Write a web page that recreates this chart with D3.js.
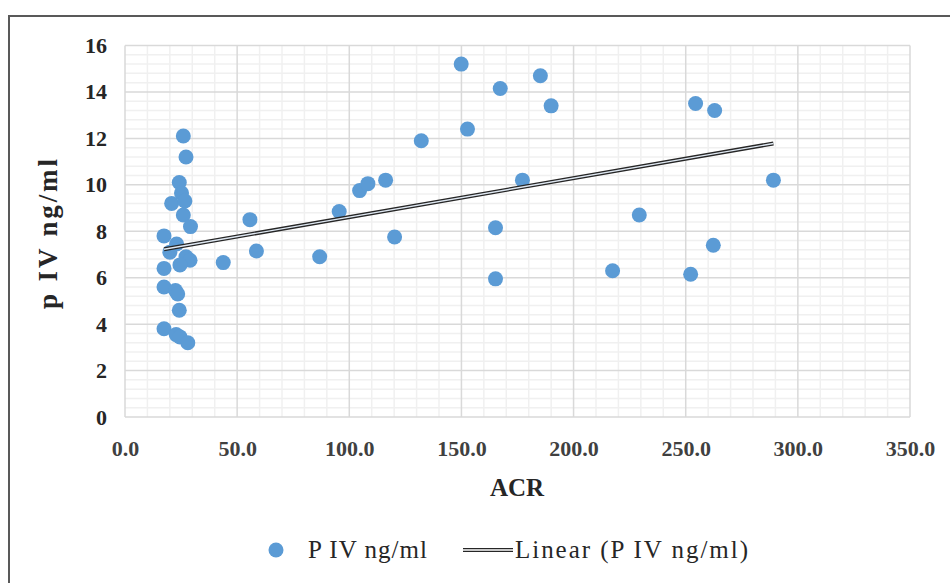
<!DOCTYPE html>
<html>
<head>
<meta charset="utf-8">
<script src="https://cdn.jsdelivr.net/npm/d3@7/dist/d3.min.js"></script>
<style>
  body { margin: 0; background: #fff; }
  #chart text { font-family: "Liberation Serif", "Times New Roman", serif; }
</style>
</head>
<body>
<div id="chart"></div>
<script>
// ACR vs P IV scatter with a linear trend line
const acr = [17.4, 17.4, 17.4, 17.4, 20.8, 26.0, 27.2, 24.2, 25.2, 26.7, 26.0, 29.2,
    23.0, 20.0, 27.2, 29.0, 24.5, 22.5, 23.5, 24.2, 22.8, 24.5, 28.0,
    43.8, 55.7, 58.6, 86.8, 95.5, 104.6, 108.3, 116.2, 120.2, 132.1, 149.9, 152.7,
    165.2, 165.2, 167.3, 177.2, 185.2, 190.0, 217.4, 229.3, 252.2, 254.4, 262.3, 262.9, 289.1];
const piv = [7.8, 6.4, 5.6, 3.8, 9.2, 12.1, 11.2, 10.1, 9.65, 9.3, 8.7, 8.2,
    7.45, 7.1, 6.9, 6.75, 6.55, 5.45, 5.3, 4.6, 3.55, 3.45, 3.2,
    6.65, 8.5, 7.15, 6.9, 8.85, 9.75, 10.05, 10.2, 7.75, 11.9, 15.2, 12.4,
    8.15, 5.95, 14.15, 10.2, 14.7, 13.4, 6.3, 8.7, 6.15, 13.5, 7.4, 13.2, 10.2];
const xTicks = [0, 50, 100, 150, 200, 250, 300, 350];
const yTicks = [0, 2, 4, 6, 8, 10, 12, 14, 16];
const seriesName = 'P IV ng/ml';
const trendName = 'Linear (P IV ng/ml)';

const points = acr.map((a, i) => ({ x: a, y: piv[i] }));

// least squares fit
const mx = d3.mean(acr);
const my = d3.mean(piv);
const sxy = d3.sum(points, d => (d.x - mx) * (d.y - my));
const sxx = d3.sum(points, d => (d.x - mx) * (d.x - mx));
const slope = sxy / sxx;
const intercept = my - slope * mx;
const trend = d3.extent(acr).map(x => ({ x: x, y: intercept + slope * x }));

const svgWidth = 950;
const svgHeight = 583;
const margin = { top: 45.5, right: 40, bottom: 166, left: 125 };
const width = svgWidth - margin.left - margin.right;
const height = svgHeight - margin.top - margin.bottom;

const root = d3.select('#chart')
    .append('svg')
    .attr('width', svgWidth)
    .attr('height', svgHeight);

root.append('rect')
    .attr('x', 9)
    .attr('y', 16)
    .attr('width', 980)
    .attr('height', 620)
    .attr('fill', 'none')
    .attr('stroke', '#595959')
    .attr('stroke-width', 2);

const svg = root.append('g')
    .attr('transform', `translate(${margin.left},${margin.top})`);

const xScale = d3.scaleLinear().domain([0, 350]).range([0, width]);
const yScale = d3.scaleLinear().domain([0, 16]).range([height, 0]);

// minor grid
svg.append('g')
    .selectAll('line')
    .data(d3.range(0, 351, 10).filter(v => v % 50 !== 0))
    .enter()
    .append('line')
    .attr('x1', d => xScale(d)).attr('x2', d => xScale(d))
    .attr('y1', 0).attr('y2', height)
    .attr('stroke', '#f0f0f0').attr('stroke-width', 1.5);
svg.append('g')
    .selectAll('line')
    .data(d3.range(0, 80).map(i => i * 0.4).filter(v => v <= 16 && Math.abs(v / 2 - Math.round(v / 2)) > 0.01))
    .enter()
    .append('line')
    .attr('x1', 0).attr('x2', width)
    .attr('y1', d => yScale(d)).attr('y2', d => yScale(d))
    .attr('stroke', '#f0f0f0').attr('stroke-width', 1.5);

// major grid
svg.append('g')
    .selectAll('line')
    .data(xTicks)
    .enter()
    .append('line')
    .attr('x1', d => xScale(d)).attr('x2', d => xScale(d))
    .attr('y1', 0).attr('y2', height)
    .attr('stroke', '#d9d9d9').attr('stroke-width', 1.5);
svg.append('g')
    .selectAll('line')
    .data(yTicks)
    .enter()
    .append('line')
    .attr('x1', 0).attr('x2', width)
    .attr('y1', d => yScale(d)).attr('y2', d => yScale(d))
    .attr('stroke', '#d9d9d9').attr('stroke-width', 1.5);

// axes (labels only)
const xAxis = svg.append('g')
    .attr('transform', `translate(0,${height})`)
    .call(d3.axisBottom(xScale).tickValues(xTicks).tickFormat(d3.format('.1f')).tickSize(0).tickPadding(23));
xAxis.select('.domain').remove();
xAxis.selectAll('text')
    .attr('font-size', 22).attr('font-weight', 'bold').attr('fill', '#404040');

const yAxis = svg.append('g')
    .call(d3.axisLeft(yScale).tickValues(yTicks).tickFormat(d3.format('d')).tickSize(0).tickPadding(18));
yAxis.select('.domain').remove();
yAxis.selectAll('text')
    .attr('font-size', 22).attr('font-weight', 'bold').attr('fill', '#262626');

svg.selectAll('circle')
    .data(points)
    .enter()
    .append('circle')
    .attr('cx', d => xScale(d.x))
    .attr('cy', d => yScale(d.y))
    .attr('r', 7.5)
    .attr('fill', '#5b9bd5');

const line = d3.line().x(d => xScale(d.x)).y(d => yScale(d.y));
svg.append('path').datum(trend)
    .attr('d', line)
    .attr('fill', 'none')
    .attr('stroke', '#262626')
    .attr('stroke-width', 4);
svg.append('path').datum(trend)
    .attr('d', line)
    .attr('fill', 'none')
    .attr('stroke', '#dfe8f2')
    .attr('stroke-width', 1.4);

// axis titles
root.append('text')
    .attr('x', 517)
    .attr('y', 496)
    .attr('text-anchor', 'middle')
    .attr('font-size', 25)
    .attr('font-weight', 'bold')
    .attr('fill', '#262626')
    .text('ACR');
root.append('text')
    .attr('transform', 'translate(57,234) rotate(-90)')
    .attr('text-anchor', 'middle')
    .attr('font-size', 27)
    .attr('font-weight', 'bold')
    .attr('fill', '#262626')
    .attr('textLength', 150).attr('lengthAdjust', 'spacing')
    .text('p IV ng/ml');

// legend
const legend = root.append('g').attr('transform', 'translate(0,550)');
legend.append('circle')
    .attr('cx', 276).attr('cy', 0).attr('r', 7.5)
    .attr('fill', '#5b9bd5');
legend.append('text')
    .attr('x', 308).attr('y', 8)
    .attr('font-size', 25).attr('fill', '#262626')
    .attr('textLength', 119).attr('lengthAdjust', 'spacing')
    .text(seriesName);
legend.append('line')
    .attr('x1', 463).attr('x2', 513).attr('y1', 0).attr('y2', 0)
    .attr('stroke', '#262626').attr('stroke-width', 4);
legend.append('line')
    .attr('x1', 463).attr('x2', 513).attr('y1', 0).attr('y2', 0)
    .attr('stroke', '#ffffff').attr('stroke-width', 1.4);
legend.append('text')
    .attr('x', 515).attr('y', 8)
    .attr('font-size', 25).attr('fill', '#262626')
    .attr('textLength', 233).attr('lengthAdjust', 'spacing')
    .text(trendName);
</script>
</body>
</html>
